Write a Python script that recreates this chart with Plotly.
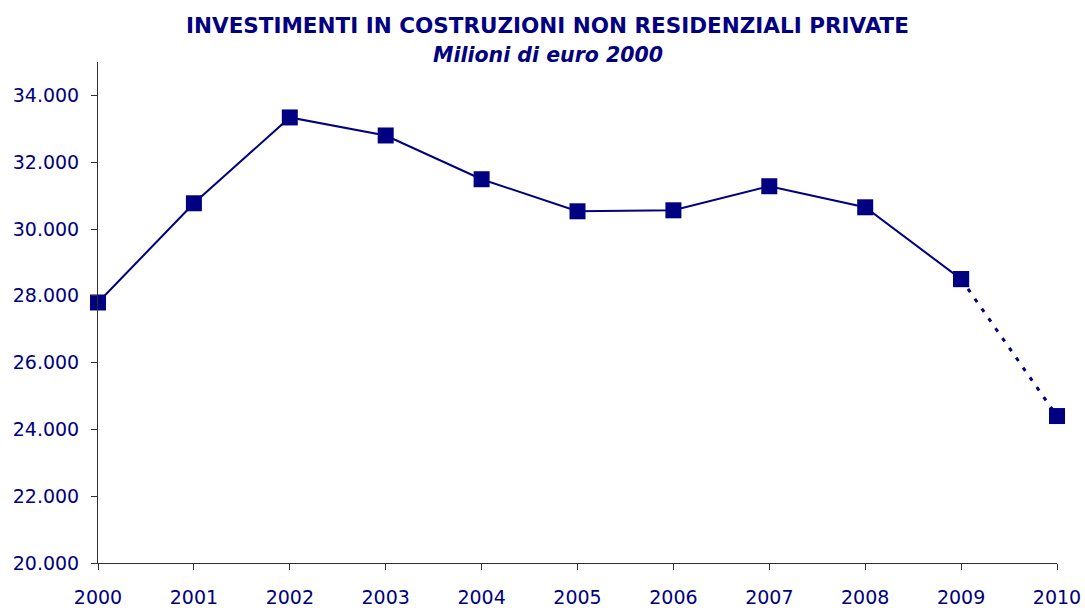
import plotly.graph_objects as go

# Dati (milioni di euro 2000)
anni = [2000, 2001, 2002, 2003, 2004, 2005, 2006, 2007, 2008, 2009, 2010]
investimenti = [27800, 30770, 33340, 32800, 31490, 30530, 30560, 31280, 30650, 28500, 24400]
tick_y = [20000, 22000, 24000, 26000, 28000, 30000, 32000, 34000]

titolo = "INVESTIMENTI IN COSTRUZIONI NON RESIDENZIALI PRIVATE"
sottotitolo = "Milioni di euro 2000"

blu = "#000080"

fig = go.Figure()

# Serie storica (linea continua fino al 2009)
fig.add_trace(go.Scatter(
    x=anni[:-1], y=investimenti[:-1],
    mode="lines+markers",
    line=dict(color=blu, width=2),
    marker=dict(symbol="square", size=16, color=blu),
    cliponaxis=False,
    showlegend=False,
))

# Previsione (tratto puntinato 2009-2010)
fig.add_trace(go.Scatter(
    x=anni[-2:], y=investimenti[-2:],
    mode="lines+markers",
    line=dict(color=blu, width=3, dash="4px,8px"),
    marker=dict(symbol="square", size=16, color=blu),
    cliponaxis=False,
    showlegend=False,
))

# titoli sopra l'area del grafico
fig.add_annotation(
    text="<b>" + titolo + "</b>", x=0.469, xref="paper", y=1.0, yref="paper",
    yshift=37, showarrow=False, xanchor="center", yanchor="middle",
    font=dict(family="DejaVu Sans", size=21.5, color=blu),
)
fig.add_annotation(
    text="<b><i>" + sottotitolo + "</i></b>", x=0.469, xref="paper", y=1.0, yref="paper",
    yshift=7, showarrow=False, xanchor="center", yanchor="middle",
    font=dict(family="DejaVu Sans", size=20.5, color=blu),
)

fig.update_layout(
    width=1085, height=608,
    margin=dict(l=98, r=28, t=62, b=45),
    paper_bgcolor="white", plot_bgcolor="white",
    separators=",.",
    font=dict(family="DejaVu Sans", color=blu, size=19),
)

fig.update_xaxes(
    range=[2000, 2010], tickvals=anni, showgrid=False, zeroline=False,
    showline=True, linecolor="#303030", linewidth=1,
    ticks="outside", ticklen=6, tickcolor="#303030",
    ticklabelstandoff=11, automargin=False,
    tickfont=dict(family="DejaVu Sans", size=19, color=blu),
)
fig.update_yaxes(
    range=[20000, 35000], tickvals=tick_y,
    tickformat=",d", showgrid=False, zeroline=False,
    showline=True, linecolor="#303030", linewidth=1,
    ticks="outside", ticklen=6, tickcolor="#303030",
    ticklabelstandoff=8, automargin=False,
    tickfont=dict(family="DejaVu Sans", size=19, color=blu),
)

# niente margine della pagina, così la figura occupa esattamente la finestra
fig.write_html(
    "out.html",
    config={"displayModeBar": False},
    post_script="document.body.style.margin='0';",
)
